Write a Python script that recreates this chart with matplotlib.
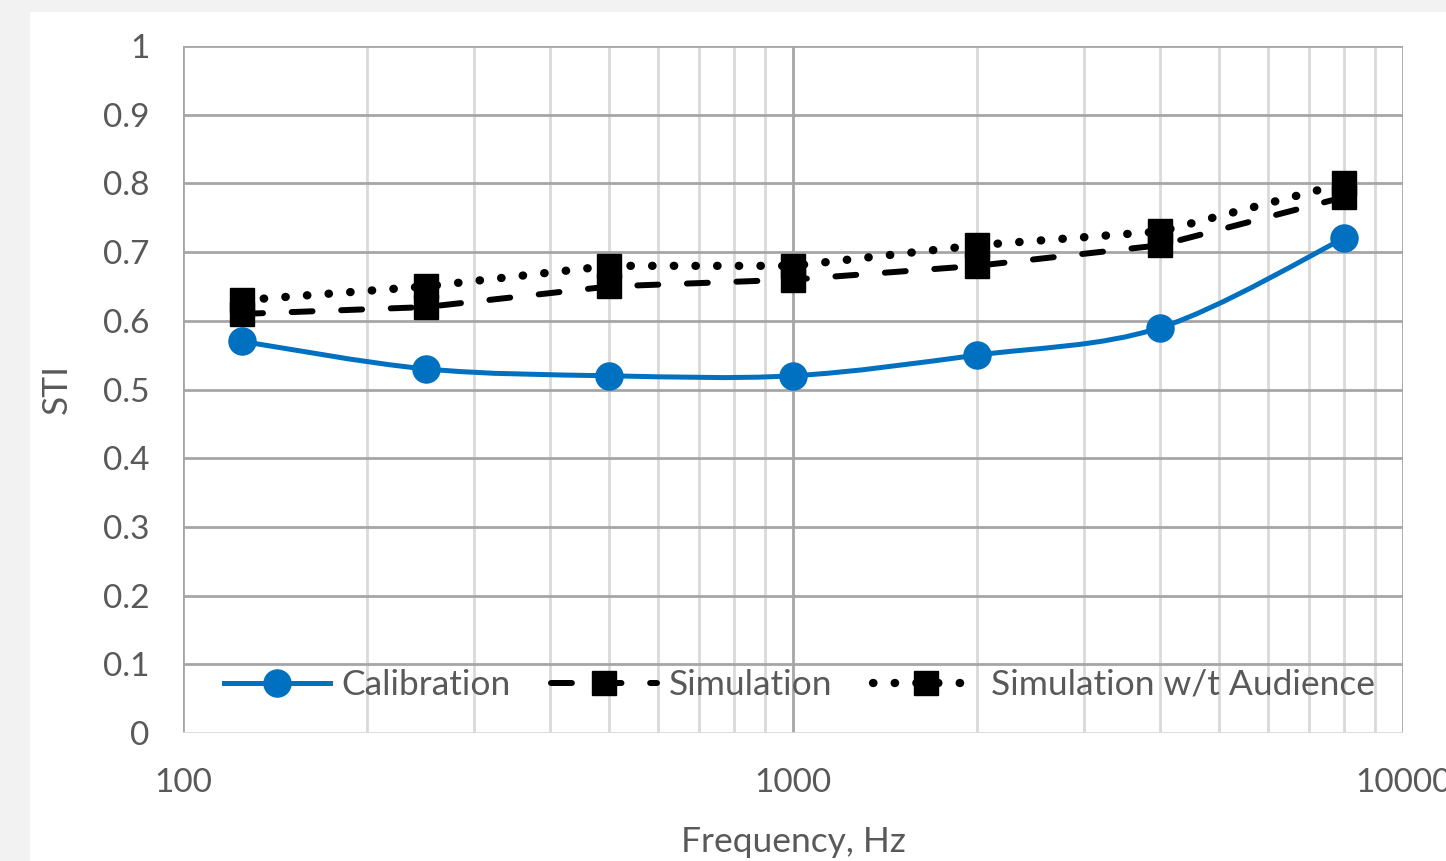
import numpy as np
import matplotlib
matplotlib.use("Agg")
import matplotlib.pyplot as plt
from matplotlib.path import Path
from matplotlib.patches import PathPatch, Rectangle
from matplotlib.lines import Line2D
from matplotlib.ticker import FixedLocator, NullFormatter

plt.rcParams['font.family'] = ['Lato', 'DejaVu Sans']

freq = [125, 250, 500, 1000, 2000, 4000, 8000]
calibration = [0.57, 0.53, 0.52, 0.52, 0.55, 0.59, 0.72]
simulation = [0.61, 0.62, 0.65, 0.66, 0.68, 0.71, 0.78]
simulation_no_aud = [0.63, 0.65, 0.68, 0.68, 0.71, 0.73, 0.80]
series_labels = ["Calibration", "Simulation", "Simulation w/t Audience"]
y_ticks = [0, 0.1, 0.2, 0.3, 0.4, 0.5, 0.6, 0.7, 0.8, 0.9, 1]
y_tick_labels = ["0", "0.1", "0.2", "0.3", "0.4", "0.5", "0.6", "0.7", "0.8", "0.9", "1"]
x_ticks = [100, 1000, 10000]
x_tick_labels = ["100", "1000", "10000"]

W, H = 1446, 861
fig = plt.figure(figsize=(W / 100, H / 100), dpi=100)
fig.patch.set_facecolor('#F2F2F2')
fig.patches.append(Rectangle((30 / W, 0), 1, 1 - 12 / H, transform=fig.transFigure,
                             facecolor='white', edgecolor='none', zorder=-10))

ax = fig.add_axes([183 / W, 1 - 733 / H, (1403 - 183) / W, (733 - 46) / H])
ax.set_zorder(1)
ax.set_facecolor('none')
ax.set_xscale('log')
ax.set_xlim(100, 10000)
ax.set_ylim(0, 1)

text_color = '#595959'
major_c = '#A6A6A6'
minor_c = '#D9D9D9'

# grid
minor_x = [m * d for d in (100, 1000) for m in range(2, 10)]
for xv in minor_x:
    ax.axvline(xv, color=minor_c, lw=2, zorder=1)
for xv in x_ticks:
    ax.axvline(xv, color=major_c, lw=2, zorder=1.1)
for yv in y_ticks[1:]:
    ax.axhline(yv, color=major_c, lw=2, zorder=1.1)
ax.axhline(0, color=minor_c, lw=2, zorder=1.1)
for s in ax.spines.values():
    s.set_visible(False)

ax.set_yticks(y_ticks)
ax.set_yticklabels(y_tick_labels)
ax.xaxis.set_major_locator(FixedLocator(x_ticks))
ax.xaxis.set_minor_locator(FixedLocator(minor_x))
ax.xaxis.set_minor_formatter(NullFormatter())
ax.set_xticklabels(x_tick_labels)
ax.tick_params(axis='both', which='both', length=0, labelsize=24, colors=text_color)
ax.tick_params(axis='y', pad=24)
ax.tick_params(axis='x', pad=25)
for lbl in ax.get_xticklabels():
    lbl.set_clip_on(False)

ax.set_xlabel("Frequency, Hz", fontsize=25.5, color=text_color, labelpad=20)
ax.set_ylabel("STI", fontsize=25.5, color=text_color, labelpad=22)

blue = '#0070C0'

# smoothed calibration line (Excel-style Bezier)
lx = np.log10(freq)
yy = np.array(calibration)
n = len(lx)
verts = [(freq[0], calibration[0])]
codes = [Path.MOVETO]
for i in range(n - 1):
    p0 = np.array([lx[max(i - 1, 0)], yy[max(i - 1, 0)]])
    p1 = np.array([lx[i], yy[i]])
    p2 = np.array([lx[i + 1], yy[i + 1]])
    p3 = np.array([lx[min(i + 2, n - 1)], yy[min(i + 2, n - 1)]])
    c1 = p1 + (p2 - p0) / 6
    c2 = p2 - (p3 - p1) / 6
    for c in (c1, c2, p2):
        verts.append((10 ** c[0], c[1]))
        codes.append(Path.CURVE4)
ax.add_patch(PathPatch(Path(verts, codes), fill=False, edgecolor=blue, lw=3.6, zorder=3,
                       capstyle='round'))
ax.plot(freq, calibration, linestyle='none', marker='o', markersize=19.5,
        color=blue, zorder=4)

dash_style = dict(color='black', lw=4.3, dashes=(3.5, 4.8), dash_capstyle='round',
                  marker='s', markersize=17)
dot_style = dict(color='black', lw=6, dashes=(0.05, 2.55), dash_capstyle='round',
                 marker='s', markersize=17)
ax.plot(freq, simulation, zorder=5, **dash_style)
ax.plot(freq, simulation_no_aud, zorder=6, **dot_style)

handles = [
    Line2D([], [], color=blue, lw=3.6, marker='o', markersize=19.5),
    Line2D([], [], **dash_style),
    Line2D([], [], **dot_style),
]
leg = ax.legend(handles, series_labels, loc='center', bbox_to_anchor=(0.505, (733 - 685) / 687),
                ncol=3, frameon=False, fontsize=25.5, handlelength=3.0, columnspacing=1.15,
                handletextpad=0.32, borderaxespad=0)
for t in leg.get_texts():
    t.set_color(text_color)

fig.savefig("out.png", dpi=100, facecolor=fig.get_facecolor())
